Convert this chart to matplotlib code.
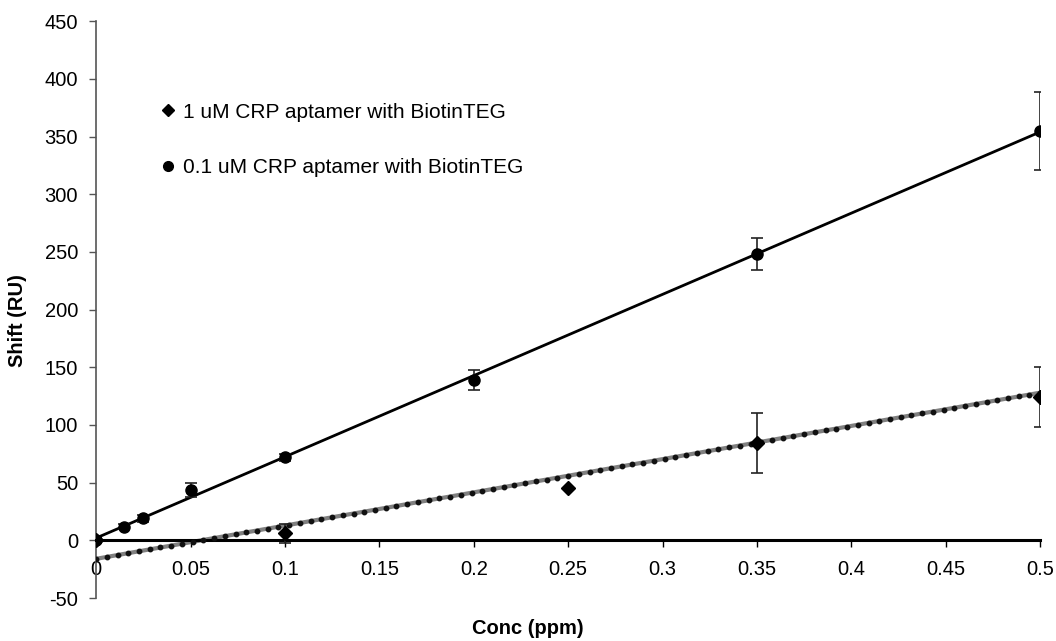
import numpy as np
import matplotlib
matplotlib.use("Agg")
import matplotlib.pyplot as plt
from matplotlib.lines import Line2D

plt.rcParams['font.family'] = ['Liberation Sans', 'DejaVu Sans']
plt.rcParams['axes.unicode_minus'] = False

# 1 uM CRP aptamer with BiotinTEG (diamonds)
conc_1 = [0, 0.1, 0.25, 0.35, 0.5]
shift_1 = [0, 6, 45, 84, 124]
err_1 = [0, 8, 0, 26, 26]
trend_1 = (288.0, -16.0)   # pendiente, ordenada

# 0.1 uM CRP aptamer with BiotinTEG (circles)
conc_01 = [0, 0.015, 0.025, 0.05, 0.1, 0.2, 0.35, 0.5]
shift_01 = [0, 12, 19, 44, 72, 139, 248, 355]
err_01 = [2, 2, 3, 6, 3, 9, 14, 34]
trend_01 = (704.0, 2.0)

labels = ["1 uM CRP aptamer with BiotinTEG",
          "0.1 uM CRP aptamer with BiotinTEG"]

fig = plt.figure(figsize=(10.56, 6.41), dpi=100)
ax = fig.add_axes([0.091, 0.067, 0.894, 0.900])

# lineas de tendencia
xt = np.linspace(0, 0.5, 89)
ax.plot(xt, trend_1[0] * xt + trend_1[1], color="#808080", lw=3, zorder=2)
ax.plot(xt, trend_1[0] * xt + trend_1[1], ls="none", marker="o", ms=3.2,
        color="#111111", zorder=3)
xt2 = np.array([0, 0.5])
ax.plot(xt2, trend_01[0] * xt2 + trend_01[1], color="black", lw=2, zorder=2)

# datos con barras de error
ax.errorbar(conc_1, shift_1, yerr=err_1, fmt="D", ms=7, color="black",
            ecolor="#222222", elinewidth=1.2, capsize=4, capthick=1.2, zorder=4)
ax.errorbar(conc_01, shift_01, yerr=err_01, fmt="o", ms=8, color="black",
            ecolor="#222222", elinewidth=1.2, capsize=4, capthick=1.2, zorder=4)

ax.set_xlim(0, 0.5)
ax.set_ylim(-50, 450)
ax.set_xticks(np.arange(0, 0.501, 0.05))
ax.set_xticklabels(["0", "0.05", "0.1", "0.15", "0.2", "0.25", "0.3",
                    "0.35", "0.4", "0.45", "0.5"])
ax.set_yticks(np.arange(-50, 451, 50))

ax.spines["top"].set_visible(False)
ax.spines["right"].set_visible(False)
ax.spines["bottom"].set_position(("data", 0))
ax.spines["bottom"].set_linewidth(2.2)
ax.spines["left"].set_color("#555555")
ax.spines["left"].set_linewidth(1.2)

ax.tick_params(axis="x", direction="out", length=5, width=1, pad=9,
               labelsize=14.5, color="black")
ax.tick_params(axis="y", direction="out", length=5, width=1, pad=8,
               labelsize=14.5, color="#555555")

fig.text(0.5, 1 - 628 / 641, "Conc (ppm)", ha="center", va="center",
         fontsize=14.5, fontweight="bold")
fig.text(18 / 1056, 0.5, "Shift (RU)", ha="center", va="center",
         rotation=90, fontsize=14.5, fontweight="bold")

handles = [Line2D([], [], ls="none", marker="D", ms=6, color="black"),
           Line2D([], [], ls="none", marker="o", ms=7, color="black")]
ax.legend(handles, labels, loc="center left", frameon=False,
          bbox_to_anchor=(163 / 1056, 1 - 140 / 641),
          bbox_transform=fig.transFigure, borderpad=0, borderaxespad=0,
          handlelength=0.5, handletextpad=0.45, labelspacing=1.75,
          fontsize=15)

fig.savefig("out.png", dpi=100)
